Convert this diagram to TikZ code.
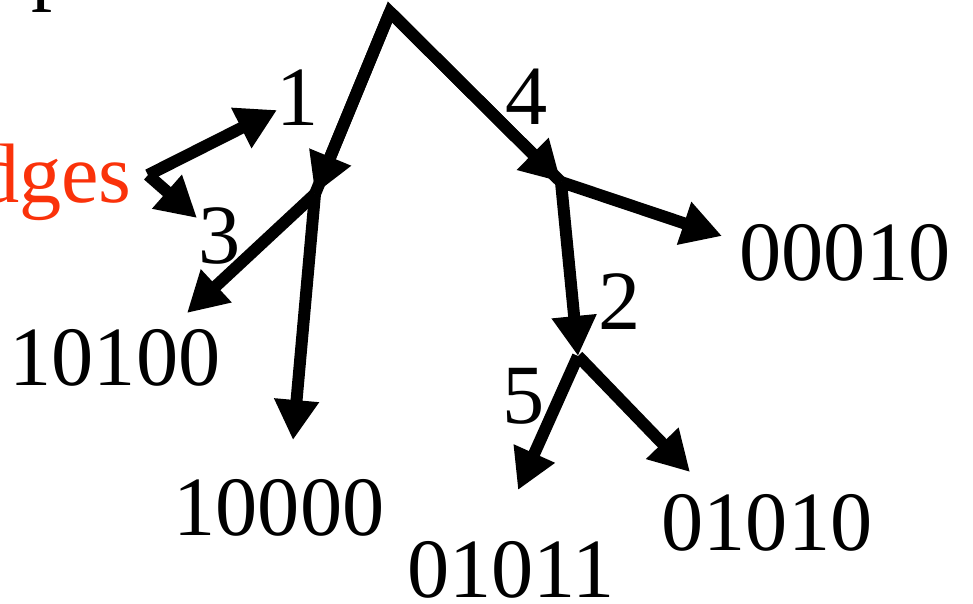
\documentclass[tikz,border=0pt]{standalone}
\usepackage{fontspec}
\setmainfont{Liberation Serif}
\definecolor{edgered}{RGB}{250,50,10}
\usetikzlibrary{arrows.meta}

\begin{document}
\begin{tikzpicture}[x=0.02cm, y=-0.02cm,
    branch/.style={line width=0.24cm, -{Triangle[length=0.8cm, width=0.85cm]}},
    leaf/.style={font=\fontsize{48}{56}\selectfont, inner sep=0pt},
    weight/.style={font=\fontsize{48}{56}\selectfont, inner sep=0pt},
    tag/.style={font=\fontsize{48}{56}\selectfont, text=edgered, inner sep=0pt},
  ]
    \useasboundingbox (0, 0) rectangle (973, 603);
    % text cut by the frame
    \node[leaf, anchor=base west] (p) at (31, -6) {p};
    \node[tag, anchor=base east] (edges) at (132, 202) {edges};
    % tree points
    \coordinate (root) at (390, 12);
    \coordinate (a) at (315, 194);
    \coordinate (b) at (561, 182);
    \coordinate (c) at (578, 356);
    \coordinate (ea) at (148, 175);
    \coordinate (one) at (277, 110);
    \coordinate (three) at (197, 218);
    \coordinate (la) at (187, 313);
    \coordinate (lb) at (293, 440);
    \coordinate (lc) at (722, 236);
    \coordinate (ld) at (518, 490);
    \coordinate (le) at (690, 472);
    % leaves
    \node[leaf] (n10100) at (115, 358) {10100};
    \node[leaf] (n10000) at (279, 508) {10000};
    \node[leaf] (n00010) at (845, 253) {00010};
    \node[leaf] (n01011) at (511, 570) {01011};
    \node[leaf] (n01010) at (767, 523) {01010};
    % weights
    \node[weight] (w1) at (298, 98) {1};
    \node[weight] (w3) at (220, 236) {3};
    \node[weight] (w4) at (527, 97) {4};
    \node[weight] (w2) at (620, 302) {2};
    \node[weight] (w5) at (524, 396) {5};
    % arrows
    \draw[line width=0.24cm, line join=miter] (a) -- (root) -- (b);
    \draw[branch] (root) -- (a);
    \draw[branch] (root) -- (b);
    \draw[branch] (a) -- (la);
    \draw[branch] (a) -- (lb);
    \draw[branch] (b) -- (lc);
    \draw[branch] (b) -- (c);
    \draw[branch] (c) -- (ld);
    \draw[branch] (c) -- (le);
    \draw[branch] (ea) -- (one);
    \draw[branch] (ea) -- (three);
\end{tikzpicture}
\end{document}
